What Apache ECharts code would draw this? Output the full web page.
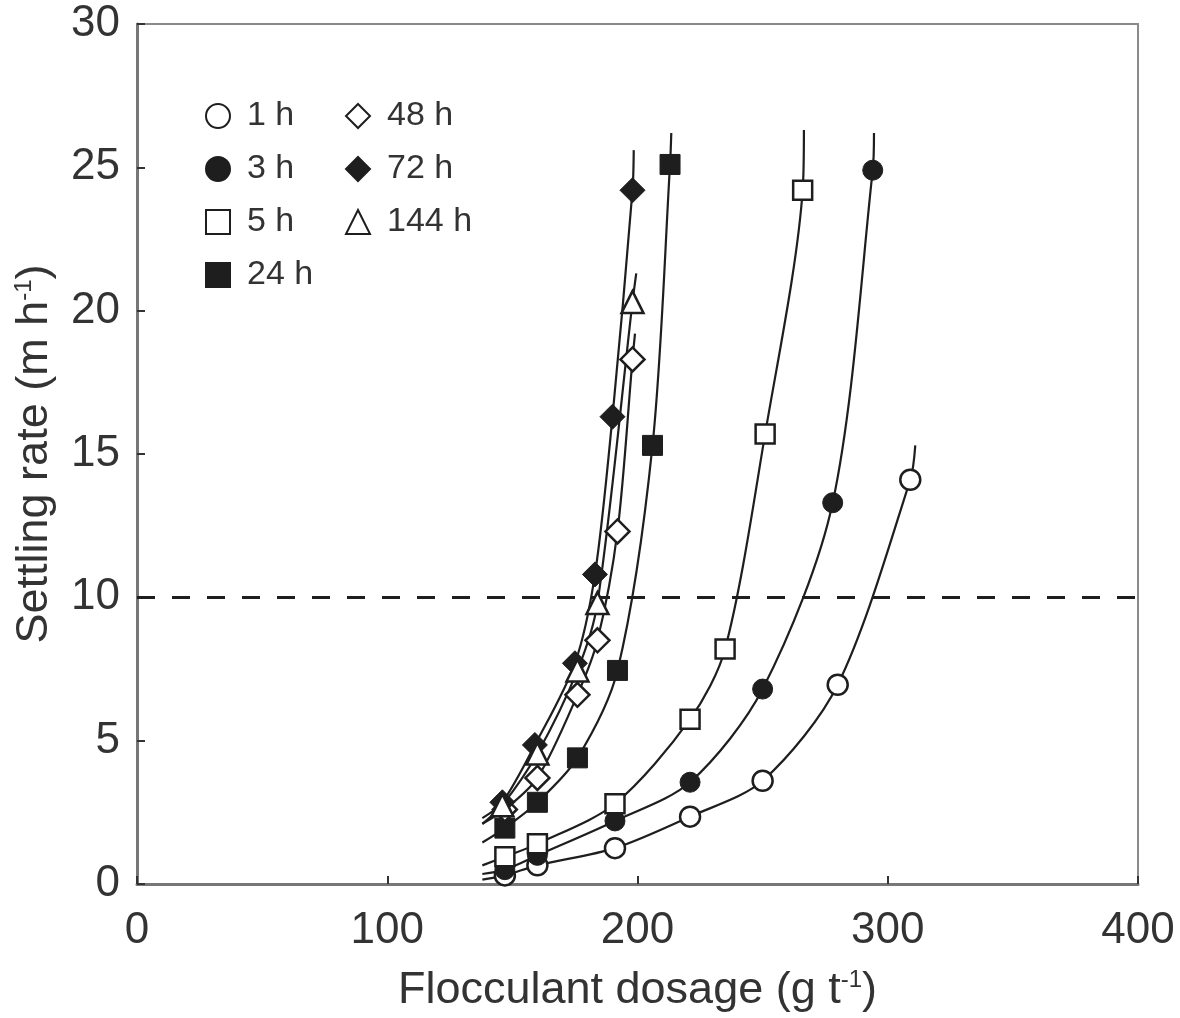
<!DOCTYPE html>
<html>
<head>
<meta charset="utf-8">
<script src="https://cdn.jsdelivr.net/npm/echarts@6/dist/echarts.min.js"></script>
<style>
  html, body { margin: 0; padding: 0; background: #fff; }
  #chart { width: 1180px; height: 1018px; }
</style>
</head>
<body>
<div id="chart"></div>
<script>
// dosage (g/t) and settling rate (m/h), one pair per ageing time
const dose1h = [147, 160, 191, 221, 250, 280, 309];
const rate1h = [0.3, 0.65, 1.25, 2.35, 3.6, 6.95, 14.1];
const dose3h = [147, 160, 191, 221, 250, 278, 294];
const rate3h = [0.5, 1.0, 2.2, 3.55, 6.8, 13.3, 24.9];
const dose5h = [147, 160, 191, 221, 235, 251, 266];
const rate5h = [0.95, 1.4, 2.8, 5.75, 8.2, 15.7, 24.2];
const dose24h = [147, 160, 176, 192, 206, 213];
const rate24h = [1.95, 2.85, 4.4, 7.45, 15.3, 25.1];
const dose48h = [147, 160, 176, 184, 192, 198];
const rate48h = [2.6, 3.7, 6.6, 8.5, 12.3, 18.3];
const dose72h = [146, 159, 175, 183, 190, 198];
const rate72h = [2.85, 4.85, 7.7, 10.8, 16.3, 24.2];
const dose144h = [146, 160, 176, 184, 198];
const rate144h = [2.75, 4.55, 7.45, 9.8, 20.3];

// where each fitted curve starts and stops beyond the measured points
const curveEnds = {
  '1 h': [[138, 0.15], [311, 15.3]],
  '3 h': [[138, 0.35], [294.5, 26.2]],
  '5 h': [[138, 0.65], [266.5, 26.3]],
  '24 h': [[138, 1.45], [213.5, 26.2]],
  '48 h': [[138, 2.1], [199, 19.2]],
  '72 h': [[138, 2.3], [198.5, 25.6]],
  '144 h': [[138, 2.1], [199.5, 21.3]]
};

const targetRate = 10;
const xTicks = [0, 400, 100];
const yTicks = [0, 30, 5];

const FONT = 'Liberation Sans, Arial, sans-serif';
const INK = '#1e1e1e';

const groups = [
  { name: '1 h', x: dose1h, y: rate1h, symbol: 'circle', size: 20, open: true },
  { name: '3 h', x: dose3h, y: rate3h, symbol: 'circle', size: 20, open: false },
  { name: '5 h', x: dose5h, y: rate5h, symbol: 'rect', size: 19, open: true },
  { name: '24 h', x: dose24h, y: rate24h, symbol: 'rect', size: 20, open: false },
  { name: '48 h', x: dose48h, y: rate48h, symbol: 'diamond', size: 24, open: true },
  { name: '72 h', x: dose72h, y: rate72h, symbol: 'diamond', size: 25, open: false },
  { name: '144 h', x: dose144h, y: rate144h, symbol: 'triangle', size: 22, open: true }
];

const series = [];
groups.forEach(g => {
  const pts = g.x.map((d, i) => [d, g.y[i]]);
  const ends = curveEnds[g.name];
  series.push({
    name: g.name + ' fit',
    type: 'line',
    data: [ends[0]].concat(pts, [ends[1]]),
    smooth: 0.3,
    showSymbol: false,
    silent: true,
    z: 2,
    lineStyle: { color: INK, width: 2.2 }
  });
});
groups.forEach(g => {
  series.push({
    name: g.name,
    type: 'scatter',
    data: g.x.map((d, i) => [d, g.y[i]]),
    symbol: g.symbol,
    symbolSize: g.size,
    z: 5,
    itemStyle: {
      opacity: 1,
      color: g.open ? '#fff' : INK,
      borderColor: INK,
      borderWidth: g.open ? 2.5 : 1
    }
  });
});

// dashed 10 m/h target line
series[0].markLine = {
  silent: true,
  symbol: 'none',
  label: { show: false },
  lineStyle: { color: INK, width: 3, type: [18, 17] },
  data: [{ yAxis: targetRate }]
};

const legendBase = {
  orient: 'vertical',
  top: 94,
  itemWidth: 24,
  itemHeight: 24,
  itemGap: 19,
  textStyle: { fontSize: 34, fontFamily: FONT, color: '#333', lineHeight: 24, padding: [0, 0, 0, 12] },
  selectedMode: false
};

const chart = echarts.init(document.getElementById('chart'));
chart.setOption({
  animation: false,
  backgroundColor: '#fff',
  grid: { left: 137, right: 42, top: 24, bottom: 130, show: true, borderColor: '#8a8a8a', borderWidth: 2 },
  legend: [
    Object.assign({}, legendBase, { left: 200, data: ['1 h', '3 h', '5 h', '24 h'] }),
    Object.assign({}, legendBase, { left: 340, data: ['48 h', '72 h', '144 h'] })
  ],
  xAxis: {
    type: 'value',
    min: xTicks[0], max: xTicks[1], interval: xTicks[2],
    name: 'Flocculant dosage (g t{sup|-1})',
    nameLocation: 'middle',
    nameGap: 84,
    nameTextStyle: {
      fontSize: 45, fontFamily: FONT, color: '#333',
      rich: { sup: { fontSize: 24, fontFamily: FONT, color: '#333', verticalAlign: 'top' } }
    },
    axisLine: { show: true, lineStyle: { color: '#777', width: 3 } },
    axisTick: { show: true, inside: true, length: 8, lineStyle: { color: '#333', width: 2 } },
    axisLabel: { fontSize: 44, fontFamily: FONT, color: '#333', margin: 25 },
    splitLine: { show: false }
  },
  yAxis: {
    type: 'value',
    min: yTicks[0], max: yTicks[1], interval: yTicks[2],
    name: 'Settling rate (m h{sup|-1})',
    nameLocation: 'middle',
    nameGap: 80,
    nameTextStyle: {
      fontSize: 45, fontFamily: FONT, color: '#333',
      rich: { sup: { fontSize: 24, fontFamily: FONT, color: '#333', verticalAlign: 'top' } }
    },
    axisLine: { show: true, lineStyle: { color: '#777', width: 3 } },
    axisTick: { show: true, inside: true, length: 8, lineStyle: { color: '#333', width: 2 } },
    axisLabel: { fontSize: 44, fontFamily: FONT, color: '#333', margin: 17 },
    splitLine: { show: false }
  },
  series: series
});
</script>
</body>
</html>
